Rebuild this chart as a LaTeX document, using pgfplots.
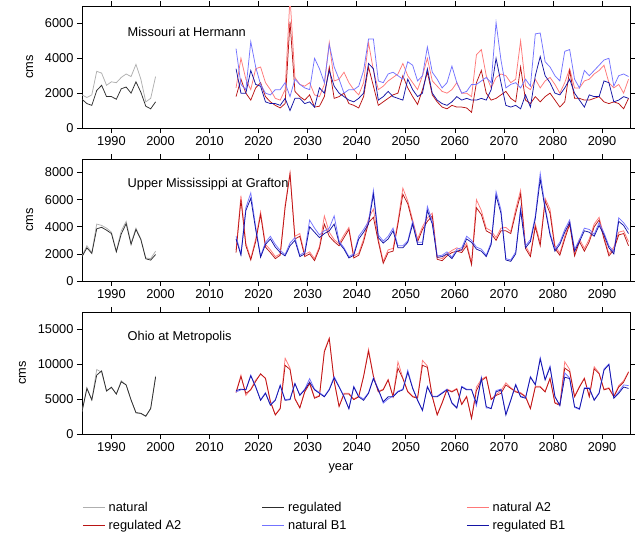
\documentclass[border=0pt]{standalone}
\usepackage{fontspec}
\setmainfont{Liberation Sans}
\usepackage{pgfplots}
\usepackage{pgfplotstable}
\pgfplotsset{compat=1.18}
\definecolor{natc}{RGB}{175,175,175}
\definecolor{regc}{RGB}{45,45,45}
\definecolor{na2c}{RGB}{255,120,120}
\definecolor{ra2c}{RGB}{185,20,20}
\definecolor{nb1c}{RGB}{115,115,255}
\definecolor{rb1c}{RGB}{20,20,165}
\newcommand{\fs}{\fontsize{12.8}{15}\selectfont}

\pgfplotstableread{
year nat reg
1984 1900 1650
1985 1750 1400
1986 1900 1300
1987 3250 2150
1988 3150 2450
1989 2450 1800
1990 2650 1800
1991 2600 1650
1992 2900 2250
1993 3100 2350
1994 2950 2000
1995 3650 2650
1996 2800 2050
1997 1500 1250
1998 1700 1100
1999 2950 1500
}\pastA
\pgfplotstableread{
year na2 ra2 nb1 rb1
2015 2300 1800 4550 3400
2016 4000 2800 2500 2000
2017 2800 2000 2200 2000
2018 2200 1600 4950 3300
2019 3400 2300 3500 2500
2020 3500 2600 2500 2400
2021 2600 1800 2000 1500
2022 2200 1500 1900 1400
2023 1700 1300 2200 1400
2024 1600 1150 2200 1300
2025 2200 1400 2600 1700
2026 7500 6100 1800 1000
2027 2900 2100 2800 1700
2028 2500 1800 2500 1700
2029 2400 1600 2300 1400
2030 2600 1900 2200 1500
2031 1900 1200 4000 1200
2032 1800 1250 3400 2300
2033 2500 1800 2600 2000
2034 4900 3500 4800 3300
2035 2700 1700 3500 2400
2036 2800 1800 2800 2000
2037 3200 2000 2000 1800
2038 2600 1400 2200 1600
2039 2200 1300 2200 1500
2040 1900 1150 2400 1700
2041 2600 1800 3300 2000
2042 4900 3500 5100 3700
2043 3300 2400 5100 3400
2044 2200 1300 2700 1600
2045 2400 1500 2600 1800
2046 2700 1700 3100 2100
2047 2900 1900 3200 1800
2048 3100 2000 3000 1700
2049 3700 3000 2800 1600
2050 3000 2300 3800 2800
2051 2600 1800 3600 2200
2052 2200 1350 2700 1800
2053 3000 2200 3000 2000
2054 4000 3200 4650 3400
2055 2700 1900 3200 2000
2056 2400 1500 2800 1600
2057 2100 1200 2300 1400
2058 2000 1100 2600 1300
2059 2200 1300 3550 1500
2060 2600 1200 2600 1800
2061 2000 1200 2000 1600
2062 2000 1150 2100 1700
2063 1800 900 2500 1600
2064 4200 2600 2500 1600
2065 4500 3300 2700 1700
2066 3000 2000 2900 1600
2067 2300 1600 2600 2200
2068 2900 1700 6050 4000
2069 3100 1900 3900 2600
2070 3000 2100 2300 1300
2071 2600 1700 2500 1200
2072 2800 1500 2600 1300
2073 5000 3500 2300 1100
2074 2400 1600 2800 1900
2075 2200 1400 2400 1200
2076 2800 1800 5400 3000
2077 2300 1500 5450 4100
2078 2700 1800 3800 3000
2079 2900 2000 3500 2600
2080 2500 1600 3000 2000
2081 2000 1200 2700 1900
2082 2600 1500 4400 2300
2083 3400 3300 4500 2800
2084 2300 1700 2800 2000
2085 2300 1700 2300 1600
2086 2700 1600 3300 1200
2087 2800 1600 3000 1900
2088 3100 1700 3300 1800
2089 3300 1800 3600 1800
2090 3600 1500 3900 2700
2091 2600 1400 4000 2600
2092 2300 1500 2400 1500
2093 2500 1400 3000 1600
2094 2000 1100 3100 1800
2095 2800 1700 2950 1700
}\futA

\pgfplotstableread{
year nat reg
1984 1850 1790
1985 2600 2450
1986 2100 2030
1987 4200 3850
1988 4100 3960
1989 3900 3750
1990 3600 3500
1991 2200 2150
1992 3700 3470
1993 4400 4230
1994 2800 2700
1995 3900 3800
1996 3100 3050
1997 1700 1640
1998 1650 1540
1999 2200 1950
}\pastB
\pgfplotstableread{
year na2 ra2 nb1 rb1
2015 2300 2100 3300 3100
2016 6300 6000 2000 1900
2017 2800 2600 5400 5200
2018 1650 1550 6500 6100
2019 3100 2900 4000 3800
2020 5100 4900 1850 1750
2021 2700 2500 2850 2700
2022 2300 2100 3300 3100
2023 1800 1650 2700 2500
2024 2000 1900 2250 2100
2025 5600 5400 1950 1850
2026 8000 7900 2800 2600
2027 3300 3100 3200 3000
2028 3500 3300 1900 1800
2029 1950 1800 2150 2000
2030 2150 2000 4500 4000
2031 1650 1500 3900 3600
2032 2550 2400 3400 3200
2033 4800 4200 3700 3500
2034 3600 3300 3900 3700
2035 3050 2900 4800 4200
2036 2750 2600 2950 2800
2037 3400 3200 2450 2350
2038 3950 3800 1800 1700
2039 1850 1700 2000 1900
2040 2050 1900 3300 3100
2041 3100 2900 3800 3600
2042 4600 4300 4400 4200
2043 5300 4700 6700 6400
2044 3100 2900 3400 3200
2045 1450 1300 2950 2800
2046 2300 2100 3300 3100
2047 2400 2200 3900 3700
2048 4400 4200 2600 2450
2049 6850 6400 2600 2450
2050 5900 5700 2950 2850
2051 4500 4300 4400 4200
2052 3100 2900 2850 2700
2053 4000 3800 2850 2700
2054 4650 4400 5500 5200
2055 5000 4800 4400 4200
2056 1750 1600 1850 1750
2057 1650 1500 1900 1800
2058 2000 1850 2150 2000
2059 2250 2100 1750 1650
2060 2450 2200 2350 2200
2061 2250 2100 2450 2300
2062 2800 2600 3300 3100
2063 1350 1200 3000 2850
2064 6000 5400 2500 2350
2065 5200 4900 2350 2200
2066 3900 3700 1900 1800
2067 3700 3500 2850 2700
2068 3200 3000 6600 6300
2069 3900 3700 5250 5000
2070 3950 3700 1650 1550
2071 3650 3500 1550 1450
2072 5300 5000 2150 2000
2073 6700 6400 5400 5200
2074 2600 2400 2600 2450
2075 1950 1800 3050 2900
2076 4200 4000 4800 4600
2077 2800 2600 7950 7500
2078 6100 5900 5500 5300
2079 5300 5000 3550 3400
2080 2600 2400 2350 2200
2081 2050 1900 2850 2700
2082 3300 3100 3800 3600
2083 4400 4200 4500 4300
2084 2000 1850 2350 2200
2085 3100 2900 3050 2900
2086 2400 2200 3900 3700
2087 3100 2900 3800 3600
2088 4200 4000 3450 3300
2089 4700 4500 4300 4100
2090 3300 3100 3550 3400
2091 2000 1850 2600 2450
2092 2500 2300 2150 2000
2093 3600 3400 4650 4400
2094 3700 3500 4300 4100
2095 2900 2600 3800 3500
}\futB

\pgfplotstableread{
year nat reg
1984 3200 3200
1985 6600 6500
1986 4900 4850
1987 9200 8400
1988 8800 9000
1989 6100 6150
1990 6700 6650
1991 5700 5700
1992 7600 7450
1993 7000 7000
1994 4900 4850
1995 3000 3050
1996 2900 2950
1997 2500 2550
1998 3600 3650
1999 8300 8100
}\pastC
\pgfplotstableread{
year na2 ra2 nb1 rb1
2015 6000 5900 6000 6200
2016 8400 8200 6300 6400
2017 5500 5800 6300 6300
2018 6400 6300 8400 8300
2019 7700 7500 6800 6700
2020 8500 8600 4900 4800
2021 8000 7900 5900 5800
2022 4700 4600 4200 4100
2023 2800 2700 4900 4800
2024 3700 3600 7000 6900
2025 10800 9800 4900 4800
2026 9400 9200 5000 4900
2027 5100 5000 7200 7200
2028 3800 3700 5600 5500
2029 6100 6000 6400 6300
2030 7400 7200 7900 7400
2031 5200 5100 6400 6300
2032 5500 5400 5900 5800
2033 11900 11700 5400 5300
2034 13700 13600 6400 6300
2035 7600 7500 8200 8000
2036 4000 3900 6800 6700
2037 5800 5700 5400 5300
2038 5800 5700 3600 3600
2039 5000 4900 6800 6700
2040 5400 5300 5400 5300
2041 8300 8200 5000 4800
2042 12100 11800 5900 5800
2043 8300 8200 8000 7900
2044 6100 6000 6400 6300
2045 6400 6300 4400 4600
2046 7800 7700 5000 5300
2047 5400 5300 5400 5300
2048 10300 9400 6100 6000
2049 8000 7900 6400 6300
2050 6100 6000 9100 8800
2051 5400 5300 6600 6500
2052 5200 5100 4900 4800
2053 10500 9800 3300 3400
2054 9700 9500 6800 6700
2055 5400 5300 5400 5300
2056 2800 2700 5400 5300
2057 4500 4400 5900 5800
2058 6400 6300 6400 6300
2059 6100 6000 4500 4400
2060 6500 6400 3800 3700
2061 4300 4200 6800 6700
2062 5400 5300 6400 6300
2063 2300 2200 6400 6300
2064 6700 6200 4000 4400
2065 7800 7600 8100 7900
2066 8200 8100 3700 3900
2067 5000 4900 3700 3600
2068 5600 5500 6200 6000
2069 6200 5800 6400 6300
2070 7300 7000 2900 2700
2071 6600 6500 4900 4800
2072 6100 6000 7100 7000
2073 5900 5800 5400 5300
2074 5400 5300 5200 5100
2075 3700 3600 8200 8100
2076 6800 6700 7100 7000
2077 6800 6700 10900 10700
2078 6100 6000 7800 7700
2079 8000 7900 9700 9500
2080 4500 4400 5400 5300
2081 4200 4100 4000 4100
2082 10300 9400 8700 8100
2083 9200 8900 8000 7900
2084 5400 5300 3800 3900
2085 6800 6700 3500 3600
2086 8000 7900 6600 6500
2087 5400 5300 6600 6500
2088 9600 9300 4900 4800
2089 8700 8600 5900 5800
2090 6400 6300 9300 9100
2091 6600 6500 10000 9900
2092 5400 5300 5200 5100
2093 6900 6700 6000 5800
2094 7600 7400 7000 6700
2095 8900 8800 6900 6500
}\futC

\pgfplotsset{
  panel/.style={
    scale only axis, width=548pt, height=122pt,
    xmin=1984, xmax=2095.7, ymin=0,
    xtick={1990,2000,...,2090},
    tick align=outside, major tick length=5pt,
    xtick pos=both, ytick pos=both,
    xticklabel pos=bottom, yticklabel pos=left,
    minor tick num=0,
    axis line style={line width=0.9pt},
    every tick/.style={black, line width=0.6pt},
    ticklabel style={font=\fs},
    label style={font=\fs},
    ylabel style={yshift=5pt},
    /pgf/number format/1000 sep={},
    /pgf/number format/assume math mode=true,
    scaled ticks=false,
    ylabel={cms},
    every axis plot/.append style={line width=0.75pt},
  },
}

\begin{document}
\begin{tikzpicture}
\path[use as bounding box] (0,0) rectangle (635pt,-538pt);

\begin{axis}[panel, at={(82pt,-6pt)}, anchor=north west, ymax=7000,
  ytick={0,2000,4000,6000}]
\addplot[natc] table[x=year,y=nat] {\pastA};
\addplot[regc] table[x=year,y=reg] {\pastA};
\addplot[na2c] table[x expr=\thisrow{year}+0.4,y=na2] {\futA};
\addplot[ra2c] table[x expr=\thisrow{year}+0.4,y=ra2] {\futA};
\addplot[nb1c] table[x expr=\thisrow{year}+0.4,y=nb1] {\futA};
\addplot[rb1c] table[x expr=\thisrow{year}+0.4,y=rb1] {\futA};
\node[anchor=west, font=\fs] at (rel axis cs:0.077,0.79) {Missouri at Hermann};
\end{axis}

\begin{axis}[panel, at={(82pt,-159pt)}, anchor=north west, ymax=9000,
  ytick={0,2000,4000,6000,8000}]
\addplot[natc] table[x=year,y=nat] {\pastB};
\addplot[regc] table[x=year,y=reg] {\pastB};
\addplot[na2c] table[x expr=\thisrow{year}+0.4,y=na2] {\futB};
\addplot[ra2c] table[x expr=\thisrow{year}+0.4,y=ra2] {\futB};
\addplot[nb1c] table[x expr=\thisrow{year}+0.4,y=nb1] {\futB};
\addplot[rb1c] table[x expr=\thisrow{year}+0.4,y=rb1] {\futB};
\node[anchor=west, font=\fs] at (rel axis cs:0.077,0.797) {Upper Mississippi at Grafton};
\end{axis}

\begin{axis}[panel, at={(82pt,-312pt)}, anchor=north west, ymax=17400,
  ytick={0,5000,10000,15000},
  xlabel={year}, xlabel style={xshift=-15pt, yshift=-5pt},
  legend columns=3,
  legend cell align=left,
  legend style={at={(0,-0.55)}, anchor=north west, draw=none, fill=none,
    font=\fs, row sep=5pt, inner sep=0pt,
    nodes={inner xsep=3pt, inner ysep=1pt}}]
\addplot[natc, forget plot] table[x=year,y=nat] {\pastC};
\addplot[regc, forget plot] table[x=year,y=reg] {\pastC};
\addplot[na2c, forget plot] table[x expr=\thisrow{year}+0.4,y=na2] {\futC};
\addplot[ra2c, forget plot] table[x expr=\thisrow{year}+0.4,y=ra2] {\futC};
\addplot[nb1c, forget plot] table[x expr=\thisrow{year}+0.4,y=nb1] {\futC};
\addplot[rb1c, forget plot] table[x expr=\thisrow{year}+0.4,y=rb1] {\futC};
\addlegendimage{legend image code/.code={\draw[natc, line width=1.5pt] (0pt,0pt) -- (22pt,0pt);}}
\addlegendentry{\makebox[150pt][l]{natural}}
\addlegendimage{legend image code/.code={\draw[regc, line width=1.5pt] (0pt,0pt) -- (22pt,0pt);}}
\addlegendentry{\makebox[175pt][l]{regulated}}
\addlegendimage{legend image code/.code={\draw[na2c, line width=1.5pt] (0pt,0pt) -- (22pt,0pt);}}
\addlegendentry{natural A2}
\addlegendimage{legend image code/.code={\draw[ra2c, line width=1.5pt] (0pt,0pt) -- (22pt,0pt);}}
\addlegendentry{\makebox[150pt][l]{regulated A2}}
\addlegendimage{legend image code/.code={\draw[nb1c, line width=1.5pt] (0pt,0pt) -- (22pt,0pt);}}
\addlegendentry{\makebox[175pt][l]{natural B1}}
\addlegendimage{legend image code/.code={\draw[rb1c, line width=1.5pt] (0pt,0pt) -- (22pt,0pt);}}
\addlegendentry{regulated B1}
\node[anchor=west, font=\fs] at (rel axis cs:0.077,0.795) {Ohio at Metropolis};
\end{axis}
\end{tikzpicture}
\end{document}
